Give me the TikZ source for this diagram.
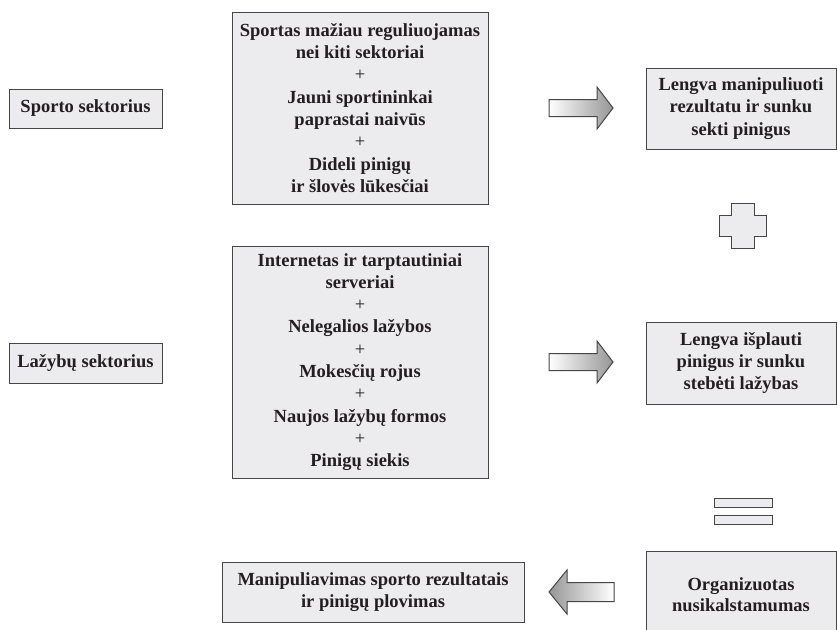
\documentclass[tikz,border=0pt]{standalone}
\usepackage{fontspec}
\setmainfont{Liberation Serif}
\usepackage{tikz}
\usetikzlibrary{positioning, calc}

\definecolor{boxgray}{RGB}{236,236,238}
\definecolor{linegray}{RGB}{70,70,70}
\definecolor{inkgray}{RGB}{35,31,32}
\definecolor{shadegray}{RGB}{150,150,150}

\tikzset{
    box/.style={draw=linegray, line width=1pt, fill=boxgray, text=inkgray,
        align=center, inner sep=0pt,
        font=\fontsize{18.5}{22.3}\selectfont\bfseries},
    tightbox/.style={box, font=\fontsize{18.5}{21}\selectfont\bfseries},
    sign/.style={draw=linegray, line width=1pt, fill=boxgray},
    fatarrow/.style={draw=linegray, line width=1pt, left color=white, right color=shadegray},
    backarrow/.style={draw=linegray, line width=1pt, left color=shadegray, right color=white}
}
\newcommand{\plusline}{{\mdseries +}}

\begin{document}
\begin{tikzpicture}[x=1pt, y=-1pt]
\useasboundingbox (0,0) rectangle (837,629);

% Sport row
\node[box, minimum width=153pt, minimum height=39pt] (sport) at (85.5,108.5) {Sporto sektorius};
\node[box, minimum width=256pt, minimum height=192pt] (sportbox) at (360,108)
    {Sportas mažiau reguliuojamas\\ nei kiti sektoriai\\ \plusline\\ Jauni sportininkai\\
     paprastai naivūs\\ \plusline\\ Dideli pinigų\\ ir šlovės lūkesčiai};
\node[box, minimum width=190pt, minimum height=81pt] (res1) at (741,108.5)
    {Lengva manipuliuoti\\ rezultatu ir sunku\\ sekti pinigus};

% Betting row
\node[box, minimum width=153pt, minimum height=40pt] (bet) at (85.5,363) {Lažybų sektorius};
\node[box, minimum width=256pt, minimum height=232pt] (betbox) at (360,362)
    {Internetas ir tarptautiniai\\ serveriai\\ \plusline\\ Nelegalios lažybos\\ \plusline\\
     Mokesčių rojus\\ \plusline\\ Naujos lažybų formos\\ \plusline\\ Pinigų siekis};
\node[box, minimum width=190pt, minimum height=82pt] (res2) at (741,363)
    {Lengva išplauti\\ pinigus ir sunku\\ stebėti lažybas};

% Bottom row
\node[tightbox, minimum width=190pt, minimum height=88pt] (crime) at (741,595)
    {Organizuotas\\ nusikalstamumas};
\node[box, minimum width=302pt, minimum height=60pt] (manip) at (373,592)
    {Manipuliavimas sporto rezultatais\\ ir pinigų plovimas};

% Block arrows
\coordinate (a1) at (549,108);
\coordinate (a2) at (549,362);
\coordinate (a3) at (549,592);
\draw[fatarrow] (a1) -- ++(0,-8.5) -- ++(48,0) -- ++(0,-12.5) -- ++(16,21)
    -- ++(-16,21) -- ++(0,-12.5) -- ++(-48,0) -- cycle;
\draw[fatarrow] (a2) -- ++(0,-8.5) -- ++(48,0) -- ++(0,-12.5) -- ++(16,21)
    -- ++(-16,21) -- ++(0,-12.5) -- ++(-48,0) -- cycle;
\draw[backarrow] (a3) -- ++(18,-22) -- ++(0,12.5) -- ++(47,0) -- ++(0,19)
    -- ++(-47,0) -- ++(0,12.5) -- cycle;

% Plus and equals signs
\draw[sign] (731,203) -- (754,203) -- (754,215) -- (766,215) -- (766,236) -- (754,236)
    -- (754,248) -- (731,248) -- (731,236) -- (719,236) -- (719,215) -- (731,215) -- cycle;
\draw[sign] (714,498) rectangle (772,507);
\draw[sign] (714,515) rectangle (772,524);
\end{tikzpicture}
\end{document}
